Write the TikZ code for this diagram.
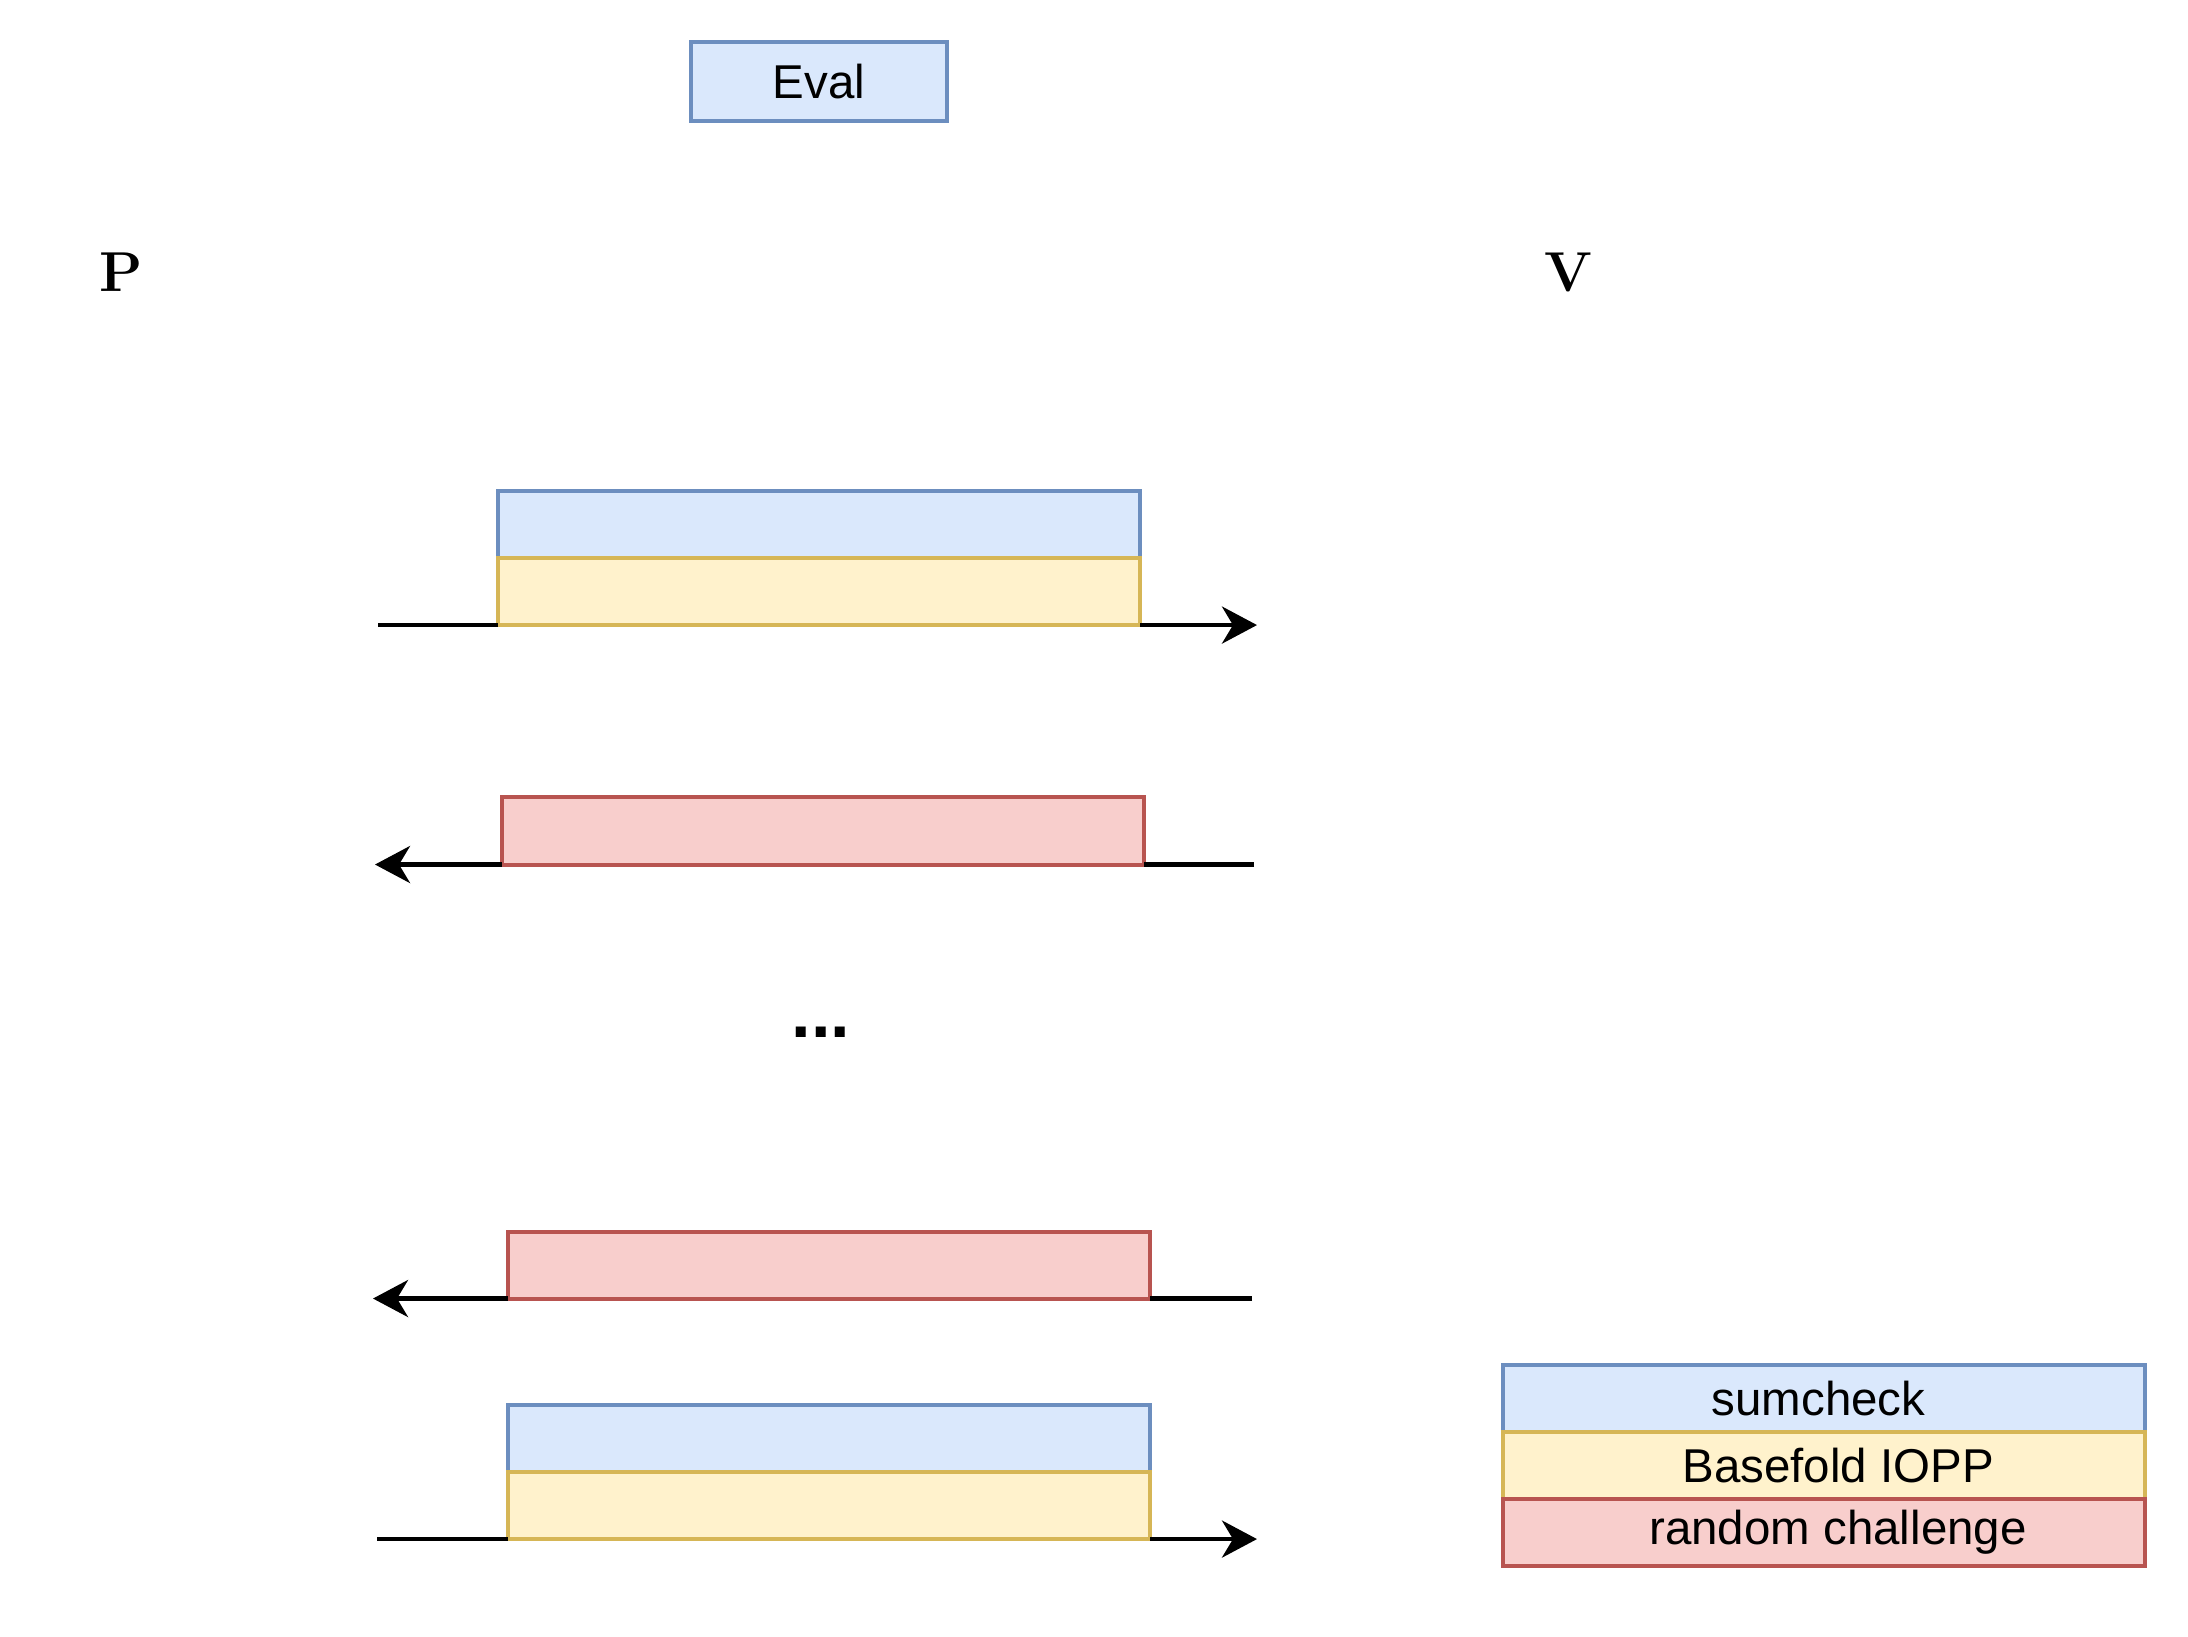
\documentclass[tikz,border=0pt]{standalone}
\usepackage{fontspec}
\newfontfamily\helv{Liberation Sans}
\usetikzlibrary{positioning,arrows.meta}

\definecolor{sumfill}{HTML}{DAE8FC}
\definecolor{sumdraw}{HTML}{6C8EBF}
\definecolor{foldfill}{HTML}{FFF2CC}
\definecolor{folddraw}{HTML}{D6B656}
\definecolor{challfill}{HTML}{F8CECC}
\definecolor{challdraw}{HTML}{B85450}

\begin{document}
\begin{tikzpicture}[
    x=0.01cm, y=-0.01cm,
    node distance=0cm,
    box/.style={draw, line width=0.04cm, inner sep=0pt, outer sep=0pt, minimum width=6.42cm, minimum height=0.67cm, align=center, font=\helv\fontsize{13.5}{16}\selectfont},
    sumbox/.style={box, fill=sumfill, draw=sumdraw},
    foldbox/.style={box, fill=foldfill, draw=folddraw},
    challbox/.style={box, fill=challfill, draw=challdraw},
    party/.style={font=\fontsize{16}{19}\selectfont\bfseries},
    arr/.style={-{Stealth[length=0.35cm, width=0.37cm, inset=0.11cm]}, line width=0.045cm},
    wire/.style={line width=0.045cm},
]
\useasboundingbox (0,0) rectangle (2188,1636);

% Header
\node[sumbox, minimum width=2.56cm, minimum height=0.79cm] (eval) at (819,81.5) {Eval};
\node[party] (prover) at (121,272) {P};
\node[party] (verifier) at (1568,272) {V};

% Round 1: P -> V
\node[sumbox] (sum1) at (819,524.5) {};
\node[foldbox, below=of sum1] (fold1) {};
\coordinate (in1) at (378,625);
\coordinate (out1) at (1257,625);
\draw[wire] (fold1.south west -| in1) -- (fold1.south west);
\draw[arr] (fold1.south east) -- (fold1.south east -| out1);

% Round 1: V -> P
\node[challbox] (chall1) at (823,831) {};
\coordinate (in2) at (1254,865);
\coordinate (out2) at (375,865);
\draw[wire] (chall1.south east -| in2) -- (chall1.south east);
\draw[arr] (chall1.south west) -- (chall1.south west -| out2);

\node[font=\helv\bfseries\fontsize{20}{24}\selectfont] (dots) at (821,1032) {...};

% Last round: V -> P
\node[challbox] (chall2) at (829,1265) {};
\coordinate (in3) at (1252,1299);
\coordinate (out3) at (373,1299);
\draw[wire] (chall2.south east -| in3) -- (chall2.south east);
\draw[arr] (chall2.south west) -- (chall2.south west -| out3);

% Last round: P -> V
\node[sumbox] (sum2) at (829,1438.5) {};
\node[foldbox, below=of sum2] (fold2) {};
\coordinate (in4) at (377,1539);
\coordinate (out4) at (1257,1539);
\draw[wire] (fold2.south west -| in4) -- (fold2.south west);
\draw[arr] (fold2.south east) -- (fold2.south east -| out4);

% Legend
\node[sumbox] (legsum) at (1824,1398.5) {sumcheck\hspace*{0.11cm}};
\node[foldbox, below=of legsum] (legfold) {\hspace*{0.28cm}Basefold IOPP};
\node[challbox, below=of legfold] (legchall) {\hspace*{0.28cm}random challenge};

\end{tikzpicture}
\end{document}
